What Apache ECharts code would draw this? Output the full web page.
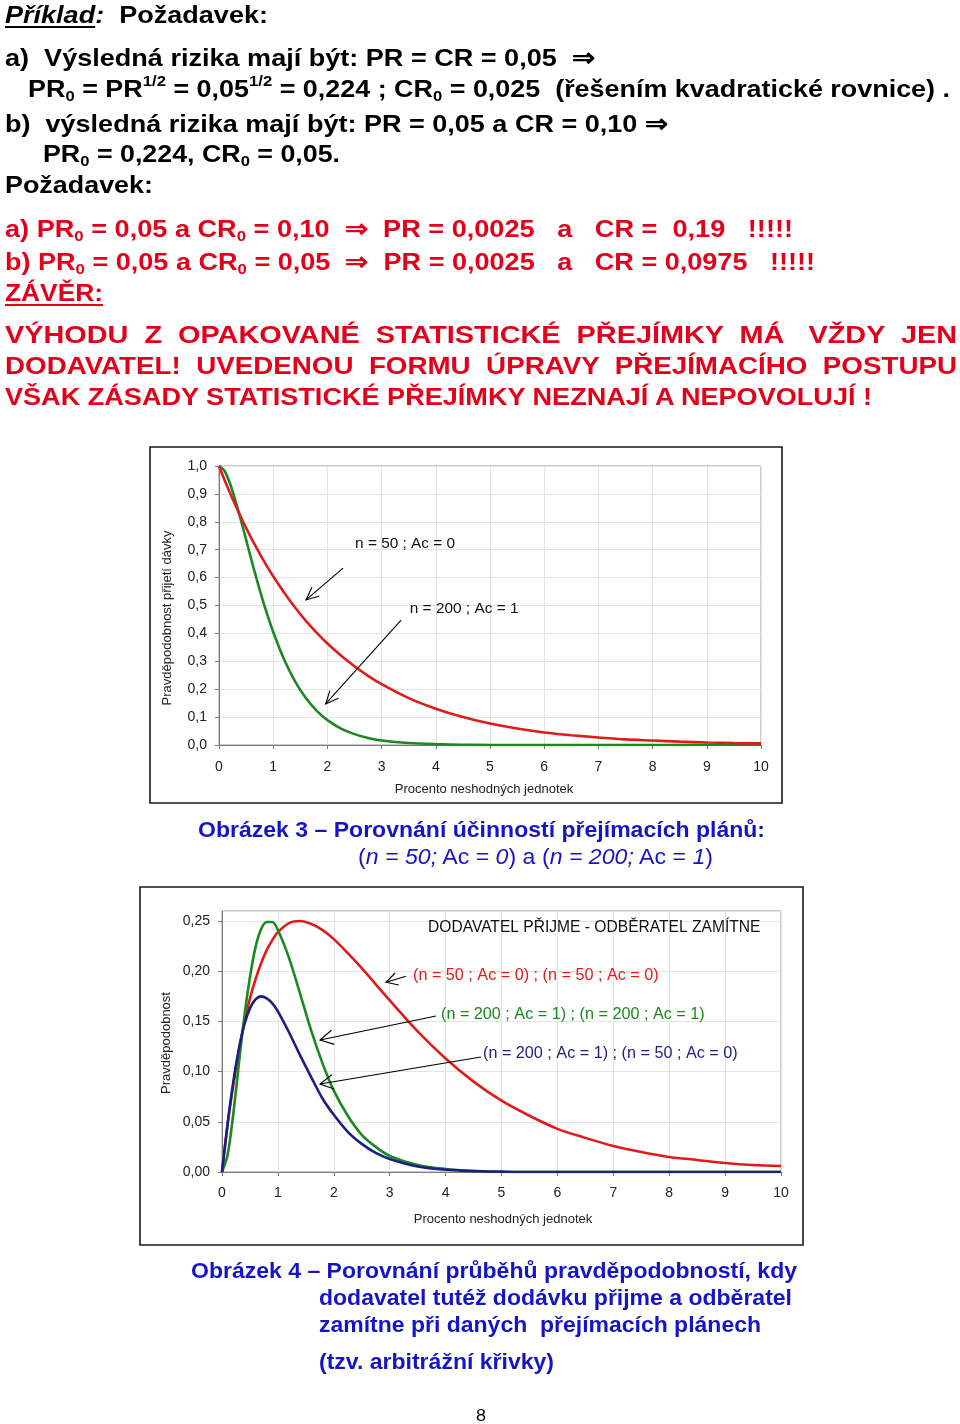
<!DOCTYPE html>
<html><head><meta charset="utf-8">
<script src="https://cdn.jsdelivr.net/npm/echarts@6/dist/echarts.min.js"></script>
<style>
html,body{margin:0;padding:0;background:#fff;}
#page{position:relative;width:960px;height:1424px;overflow:hidden;background:#fff;}
#chart{position:absolute;left:0;top:0;width:960px;height:1424px;}
.ln{position:absolute;white-space:pre;transform-origin:0 50%;}
.top{font-family:"Liberation Sans",Arial,sans-serif;font-weight:bold;font-size:24.5px;line-height:30px;height:30px;color:#000;}
.red{color:#e2001a;}
.cap{font-family:"Liberation Sans",Arial,sans-serif;font-weight:bold;font-size:22px;line-height:28px;height:28px;color:#1515c8;}
.capn{font-weight:normal;}
.pg{font-family:"Liberation Sans",Arial,sans-serif;font-size:16px;line-height:20px;height:20px;color:#000;}
sub,sup{font-size:0.62em;line-height:0;}
sub{vertical-align:-0.28em;}
sup{vertical-align:0.72em;}
u{text-decoration-thickness:2px;text-underline-offset:3px;}
</style></head>
<body>
<div id="page">
<div id="chart"></div>

<div class="ln top" data-l="5" data-c="15" data-w="263"><u><i>Příklad</i></u><i>:</i>  Požadavek:</div>
<div class="ln top" data-l="5" data-c="58" data-w="590">a)  Výsledná rizika mají být: PR = CR = 0,05  ⇒</div>
<div class="ln top" data-l="28" data-c="89" data-w="922">PR<sub>0</sub> = PR<sup>1/2</sup> = 0,05<sup>1/2</sup> = 0,224 ; CR<sub>0</sub> = 0,025  (řešením kvadratické rovnice) .</div>
<div class="ln top" data-l="5" data-c="124" data-w="663">b)  výsledná rizika mají být: PR = 0,05 a CR = 0,10 ⇒</div>
<div class="ln top" data-l="43" data-c="154" data-w="297">PR<sub>0</sub> = 0,224, CR<sub>0</sub> = 0,05.</div>
<div class="ln top" data-l="5" data-c="185" data-w="148">Požadavek:</div>
<div class="ln top red" data-l="5" data-c="229" data-w="788">a) PR<sub>0</sub> = 0,05 a CR<sub>0</sub> = 0,10  ⇒  PR = 0,0025   a   CR =  0,19   !!!!!</div>
<div class="ln top red" data-l="5" data-c="262" data-w="810">b) PR<sub>0</sub> = 0,05 a CR<sub>0</sub> = 0,05  ⇒  PR = 0,0025   a   CR = 0,0975   !!!!!</div>
<div class="ln top red" data-l="5" data-c="293" data-w="98"><u>ZÁVĚR:</u></div>
<div class="ln top red" data-l="5" data-c="335" data-w="952">VÝHODU  Z  OPAKOVANÉ  STATISTICKÉ  PŘEJÍMKY  MÁ   VŽDY  JEN</div>
<div class="ln top red" data-l="5" data-c="366" data-w="952">DODAVATEL!  UVEDENOU  FORMU  ÚPRAVY  PŘEJÍMACÍHO  POSTUPU</div>
<div class="ln top red" data-l="5" data-c="397" data-w="867">VŠAK ZÁSADY STATISTICKÉ PŘEJÍMKY NEZNAJÍ A NEPOVOLUJÍ !</div>

<div class="ln cap" data-l="198" data-c="830" data-w="567">Obrázek 3 – Porovnání účinností přejímacích plánů:</div>
<div class="ln cap capn" data-l="358" data-c="857" data-w="355">(<i>n = 50;</i> Ac = <i>0</i>) a (<i>n = 200;</i> Ac = <i>1</i>)</div>

<div class="ln cap" data-l="191" data-c="1271" data-w="606">Obrázek 4 – Porovnání průběhů pravděpodobností, kdy</div>
<div class="ln cap" data-l="319" data-c="1298" data-w="473">dodavatel tutéž dodávku přijme a odběratel</div>
<div class="ln cap" data-l="319" data-c="1325" data-w="442">zamítne při daných  přejímacích plánech</div>
<div class="ln cap" data-l="319" data-c="1362" data-w="235">(tzv. arbitrážní křivky)</div>

<div class="ln pg" data-l="476" data-c="1416" data-w="10">8</div>
</div>

<script>
// ---------- DATA ----------
// percent of nonconforming units (x axis, both charts)
const xPct = [0, 0.1, 0.2, 0.3, 0.4, 0.5, 0.6, 0.7, 0.8, 0.9, 1, 1.2, 1.4, 1.6, 1.8, 2, 2.25, 2.5, 2.75, 3, 3.5, 4, 4.5, 5, 5.5, 6, 6.5, 7, 7.5, 8, 8.5, 9, 9.5, 10];

// Chart 1 – operating characteristic curves (probability of acceptance)
const ocN50Ac0 = [1, 0.951, 0.905, 0.861, 0.818, 0.778, 0.740, 0.704, 0.669, 0.636, 0.605, 0.547, 0.494, 0.446, 0.403, 0.364, 0.321, 0.282, 0.248, 0.218, 0.168, 0.130, 0.100, 0.077, 0.059, 0.045, 0.035, 0.027, 0.020, 0.016, 0.012, 0.009, 0.007, 0.006];
const ocN200Ac1 = [1, 0.983, 0.939, 0.878, 0.809, 0.736, 0.662, 0.591, 0.524, 0.462, 0.405, 0.307, 0.229, 0.169, 0.123, 0.089, 0.059, 0.039, 0.025, 0.016, 0.007, 0.003, 0.001, 0, 0, 0, 0, 0, 0, 0, 0, 0, 0, 0];

// Chart 2 – arbitration curves (supplier accepts, customer rejects)
const arbRed50_50 = [0, 0.047, 0.086, 0.120, 0.149, 0.173, 0.192, 0.208, 0.221, 0.231, 0.239, 0.248, 0.250, 0.247, 0.241, 0.232, 0.218, 0.203, 0.187, 0.171, 0.140, 0.113, 0.090, 0.071, 0.056, 0.043, 0.034, 0.026, 0.020, 0.015, 0.012, 0.009, 0.007, 0.006];
const arbGreen200_200 = [0, 0.017, 0.057, 0.107, 0.155, 0.194, 0.224, 0.242, 0.249, 0.249, 0.241, 0.213, 0.177, 0.140, 0.108, 0.081, 0.056, 0.037, 0.025, 0.016, 0.007, 0.003, 0.001, 0, 0, 0, 0, 0, 0, 0, 0, 0, 0, 0];
const arbBlue200_50 = [0, 0.048, 0.089, 0.122, 0.147, 0.163, 0.172, 0.175, 0.173, 0.168, 0.160, 0.139, 0.116, 0.094, 0.073, 0.057, 0.040, 0.028, 0.019, 0.013, 0.0055, 0.0023, 0.001, 0.0004, 0, 0, 0, 0, 0, 0, 0, 0, 0, 0];

// labels
const seriesNames1 = ['n = 50 ; Ac = 0', 'n = 200 ; Ac = 1'];
const seriesNames2 = ['(n = 50 ; Ac = 0) ; (n = 50 ; Ac = 0)', '(n = 200 ; Ac = 1) ; (n = 200 ; Ac = 1)', '(n = 200 ; Ac = 1) ; (n = 50 ; Ac = 0)'];
const chart2Title = 'DODAVATEL PŘIJME - ODBĚRATEL ZAMÍTNE';
const xAxisTitle = 'Procento neshodných jednotek';
const yAxisTitle1 = 'Pravděpodobnost přijetí dávky';
const yAxisTitle2 = 'Pravděpodobnost';

// ---------- STYLE ----------
const RED = '#e11b1b', GREEN = '#1a8a1f', BLUE = '#1b1f80';
const FONT = '"Liberation Sans", Arial, sans-serif';

function fitLines(){
  document.querySelectorAll('.ln').forEach(el=>{
    el.style.transform='';
    el.style.left = el.dataset.l + 'px';
    const h = el.getBoundingClientRect().height;
    el.style.top = (parseFloat(el.dataset.c) - h/2) + 'px';
    const w = el.getBoundingClientRect().width;
    const s = parseFloat(el.dataset.w)/w;
    el.style.transform = 'scaleX(' + s + ')';
  });
}

const pairs = (xs, ys) => xs.map((x,i)=>[x, ys[i]]);
const comma = d => v => v.toFixed(d).replace('.', ',');

const chart = echarts.init(document.getElementById('chart'), null, {renderer:'canvas'});

const axisCommon = {
  axisLine:{show:true, lineStyle:{color:'#7a7a7a', width:1}},
  axisTick:{show:true, inside:false, length:4, lineStyle:{color:'#7a7a7a'}},
  splitLine:{show:true, lineStyle:{color:'#e4e4e4', width:1}},
};

const option = {
  animation:false,
  backgroundColor:'transparent',
  grid:[
    {left:219, top:466, width:542, height:279, show:true, borderColor:'#9a9a9a', borderWidth:1, containLabel:false},
    {left:222, top:911, width:559, height:261, show:true, borderColor:'#9a9a9a', borderWidth:1, containLabel:false}
  ],
  xAxis:[
    Object.assign({gridIndex:0, type:'value', min:0, max:10, interval:1,
      axisLabel:{margin:15, fontSize:14, color:'#222', fontFamily:FONT}}, axisCommon),
    Object.assign({gridIndex:1, type:'value', min:0, max:10, interval:1,
      axisLabel:{margin:14, fontSize:14, color:'#222', fontFamily:FONT}}, axisCommon)
  ],
  yAxis:[
    Object.assign({gridIndex:0, type:'value', min:0, max:1, interval:0.1,
      axisLabel:{margin:12, fontSize:14, color:'#222', fontFamily:FONT, formatter:comma(1)}}, axisCommon),
    Object.assign({gridIndex:1, type:'value', min:0, max:0.26, interval:0.05,
      axisLabel:{margin:12, fontSize:14, color:'#222', fontFamily:FONT, showMaxLabel:false,
        formatter:v => (Math.abs(v*20 - Math.round(v*20))>1e-6) ? '' : v.toFixed(2).replace('.', ',')}}, axisCommon)
  ],
  series:[
    {name:seriesNames1[1], type:'line', xAxisIndex:0, yAxisIndex:0, data:pairs(xPct, ocN200Ac1), showSymbol:false, smooth:0.3, lineStyle:{color:GREEN, width:2.6}, itemStyle:{color:GREEN}},
    {name:seriesNames1[0], type:'line', xAxisIndex:0, yAxisIndex:0, data:pairs(xPct, ocN50Ac0), showSymbol:false, smooth:0.3, lineStyle:{color:RED, width:2.6}, itemStyle:{color:RED}},
    {name:seriesNames2[0], type:'line', xAxisIndex:1, yAxisIndex:1, data:pairs(xPct, arbRed50_50), showSymbol:false, smooth:0.3, lineStyle:{color:RED, width:2.6}, itemStyle:{color:RED}},
    {name:seriesNames2[1], type:'line', xAxisIndex:1, yAxisIndex:1, data:pairs(xPct, arbGreen200_200), showSymbol:false, smooth:0.3, lineStyle:{color:GREEN, width:2.6}, itemStyle:{color:GREEN}},
    {name:seriesNames2[2], type:'line', xAxisIndex:1, yAxisIndex:1, data:pairs(xPct, arbBlue200_50), showSymbol:false, smooth:0.3, lineStyle:{color:BLUE, width:2.6}, itemStyle:{color:BLUE}}
  ]
};
chart.setOption(option);

// ---------- ANNOTATIONS (anchored in data coordinates) ----------
function px(g, p){ return chart.convertToPixel({gridIndex:g}, p); }
function arrow(g, from, to, len, ang, lw){
  const p0 = px(g, from), p1 = px(g, to);
  const a = Math.atan2(p0[1]-p1[1], p0[0]-p1[0]);
  const h1 = [p1[0]+len*Math.cos(a+ang), p1[1]+len*Math.sin(a+ang)];
  const h2 = [p1[0]+len*Math.cos(a-ang), p1[1]+len*Math.sin(a-ang)];
  return [
    {type:'line', z:10, shape:{x1:p0[0], y1:p0[1], x2:p1[0], y2:p1[1]}, style:{stroke:'#000', lineWidth:lw}},
    {type:'polyline', z:10, shape:{points:[h1, p1, h2]}, style:{stroke:'#000', lineWidth:lw, fill:null}}
  ];
}
function label(g, at, text, color, size){
  const p = px(g, at);
  return {type:'text', z:10, x:p[0], y:p[1], style:{text:text, fill:color, fontSize:size, fontFamily:FONT, align:'left', verticalAlign:'middle'}};
}
function plain(x, y, text, size, rot){
  return {type:'text', z:10, x:x, y:y, rotation:rot||0, style:{text:text, fill:'#222', fontSize:size, fontFamily:FONT, align:'center', verticalAlign:'middle'}};
}

const graphic = [
  {type:'rect', z:1, shape:{x:150, y:447, width:632, height:356}, style:{fill:'none', stroke:'#1a1a1a', lineWidth:1.6}},
  {type:'rect', z:1, shape:{x:140, y:887, width:663, height:358}, style:{fill:'none', stroke:'#1a1a1a', lineWidth:1.6}},
  plain(484, 789, xAxisTitle, 13),
  plain(167, 618, yAxisTitle1, 13, Math.PI/2),
  plain(503, 1219, xAxisTitle, 13),
  plain(166, 1043, yAxisTitle2, 13, Math.PI/2),
  label(0, [2.51, 0.72], seriesNames1[0], '#111', 15.4),
  label(0, [3.52, 0.487], seriesNames1[1], '#111', 15.4),
  ...arrow(0, [2.29, 0.634], [1.605, 0.52], 14, 0.42, 1.1),
  ...arrow(0, [3.36, 0.448], [1.967, 0.147], 14, 0.42, 1.1),
  label(1, [3.685, 0.243], chart2Title, '#111', 15.6),
  label(1, [3.417, 0.196], seriesNames2[0], RED, 16.2),
  label(1, [3.918, 0.157], seriesNames2[1], GREEN, 16.2),
  label(1, [4.669, 0.1185], seriesNames2[2], BLUE, 16.2),
  ...arrow(1, [3.29, 0.195], [2.934, 0.189], 13, 0.5, 1.1),
  ...arrow(1, [3.828, 0.1554], [1.753, 0.1315], 15, 0.5, 1.1),
  ...arrow(1, [4.633, 0.1145], [1.753, 0.0876], 15, 0.5, 1.1)
];
chart.setOption({graphic: graphic});

fitLines();
if (document.fonts && document.fonts.ready) document.fonts.ready.then(fitLines);
</script>
</body></html>
